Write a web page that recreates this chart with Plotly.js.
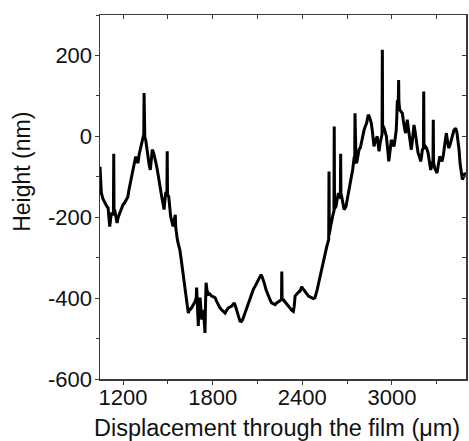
<!DOCTYPE html>
<html>
<head>
<meta charset="utf-8">
<script src="https://cdn.plot.ly/plotly-3.0.1.min.js"></script>
<style>
  html, body { margin: 0; padding: 0; background: #fff; }
  #chart { width: 469px; height: 441px; }
</style>
</head>
<body>
<div id="chart"></div>
<script>
// Surface height profile across the film
const displacement = [
  1046, 1055, 1066, 1077, 1090, 1100, 1111, 1122, 1132, 1136, 1138, 1140, 1144, 1152, 1160, 1168,
  1178, 1188, 1200, 1210, 1222, 1232, 1240, 1248, 1256, 1265, 1274, 1285, 1292, 1300, 1308, 1316,
  1324, 1329, 1336, 1339, 1341, 1343, 1346, 1352, 1360, 1367, 1375, 1383, 1390, 1396, 1404, 1412,
  1420, 1430, 1438, 1446, 1455, 1463, 1470, 1475, 1480, 1486, 1494, 1496, 1498, 1506, 1512, 1519,
  1527, 1535, 1542, 1548, 1550, 1553, 1556, 1562, 1568, 1575, 1580, 1588, 1595, 1602, 1608, 1615,
  1622, 1630, 1637, 1643, 1649, 1655, 1660, 1665, 1670, 1680, 1690, 1693, 1697, 1700, 1704, 1708,
  1712, 1716, 1722, 1727, 1732, 1738, 1744, 1749, 1752, 1756, 1762, 1767, 1772, 1782, 1793, 1805,
  1816, 1827, 1838, 1849, 1860, 1872, 1883, 1894, 1905, 1916, 1927, 1936, 1945, 1953, 1961, 1972,
  1983, 1992, 2001, 2009, 2017, 2028, 2039, 2050, 2062, 2073, 2084, 2095, 2106, 2115, 2124, 2132,
  2139, 2148, 2157, 2165, 2173, 2184, 2195, 2206, 2218, 2229, 2240, 2252, 2261, 2263, 2265, 2273,
  2285, 2296, 2307, 2318, 2329, 2340, 2346, 2352, 2358, 2363, 2368, 2374, 2380, 2385, 2391, 2396,
  2407, 2418, 2430, 2441, 2452, 2463, 2474, 2485, 2492, 2500, 2510, 2519, 2528, 2536, 2545, 2553,
  2562, 2570, 2577, 2579, 2581, 2590, 2597, 2603, 2608, 2612, 2614, 2616, 2620, 2626, 2634, 2642,
  2650, 2655, 2657, 2659, 2664, 2672, 2680, 2686, 2693, 2700, 2709, 2716, 2723, 2730, 2737, 2743,
  2748, 2751, 2753, 2755, 2760, 2764, 2772, 2780, 2789, 2798, 2806, 2814, 2822, 2831, 2837, 2842,
  2849, 2856, 2862, 2870, 2880, 2890, 2902, 2908, 2914, 2922, 2929, 2934, 2936, 2938, 2942, 2948,
  2955, 2963, 2971, 2979, 2988, 2996, 3005, 3014, 3022, 3029, 3033, 3036, 3043, 3045, 3047, 3052,
  3061, 3070, 3076, 3081, 3087, 3092, 3097, 3103, 3110, 3119, 3125, 3130, 3140, 3148, 3156, 3164,
  3170, 3175, 3184, 3193, 3199, 3204, 3211, 3213, 3215, 3224, 3233, 3242, 3251, 3260, 3268, 3275,
  3277, 3279, 3287, 3295, 3302, 3311, 3320, 3328, 3336, 3345, 3354, 3359, 3364, 3372, 3380, 3390,
  3398, 3407, 3416, 3422, 3427, 3435, 3443, 3450, 3456, 3463, 3472, 3480, 3488, 3496
];

const height = [
  -75, -140, -155, -165, -172, -177, -223, -189, -195, -188, -43, -183, -181, -200, -214, -200,
  -189, -180, -169, -165, -157, -150, -132, -118, -99, -90, -75, -50, -60, -66, -45, -33,
  -20, -9, -5, 5, 107, 2, -3, -9, -35, -58, -70, -83, -55, -33, -40, -50,
  -65, -83, -105, -124, -140, -157, -170, -181, -160, -140, -138, -37, -145, -149, -175, -198,
  -210, -223, -210, -200, -194, -225, -238, -250, -263, -272, -280, -300, -318, -338, -355, -375,
  -395, -420, -437, -430, -429, -425, -424, -420, -417, -410, -400, -374, -410, -440, -469, -420,
  -405, -399, -430, -453, -440, -429, -460, -486, -420, -362, -380, -388, -391, -390, -395, -397,
  -399, -408, -417, -424, -429, -433, -437, -430, -424, -422, -420, -416, -412, -420, -429, -445,
  -457, -458, -453, -445, -436, -425, -412, -400, -387, -378, -371, -362, -354, -348, -342, -348,
  -354, -366, -379, -388, -395, -404, -412, -414, -416, -412, -408, -406, -404, -334, -402, -404,
  -410, -416, -420, -424, -430, -433, -420, -395, -392, -391, -386, -383, -383, -383, -378, -372,
  -378, -383, -390, -395, -397, -399, -401, -399, -392, -379, -362, -346, -330, -313, -300, -288,
  -276, -264, -255, -87, -243, -222, -206, -198, -190, -185, 24, -180, -176, -173, -155, -140,
  -148, -152, -43, -150, -149, -165, -181, -178, -173, -158, -140, -128, -116, -100, -83, -65,
  -50, -55, 57, -60, -64, -66, -50, -33, -28, -10, 5, 16, 25, 33, 45, 53,
  49, 40, 33, 10, -25, -10, 0, -20, -37, -15, 0, 5, 214, 10, 25, 20,
  10, 0, -30, -62, -35, -9, -15, -25, -5, 16, 50, 86, 90, 139, 85, 66,
  60, 57, 40, 24, 15, 8, 25, 41, 20, 0, -15, -33, 0, 28, 10, -9,
  -25, -41, -50, -62, -48, -33, -30, 111, -28, -25, -30, -41, -60, -83, -70, -60,
  41, -65, -79, -85, -91, -70, -50, -55, -62, -45, -25, -10, 8, -10, -29, -20,
  -9, 5, 16, 18, 20, 10, -9, -35, -66, -85, -107, -100, -91, -95
];

const xTickVals = [1200, 1800, 2400, 3000];
const xTickText = ['1200', '1800', '2400', '3000'];
const yTickVals = [-600, -400, -200, 0, 200];
const yTickText = ['-600', '-400', '-200', '0', '200'];

const xRange = [1046, 3496];
const yRange = [-600, 300];

const fontFamily = 'Arial, "Liberation Sans", Helvetica, sans-serif';
const axisColor = '#3a3a3a';

const baseAxis = {
  showline: true,
  linecolor: axisColor,
  linewidth: 1.5,
  showgrid: false,
  zeroline: false,
  ticks: 'outside',
  ticklen: 4,
  tickwidth: 1,
  tickcolor: axisColor,
  tickfont: { family: fontFamily, size: 22, color: '#111' },
  fixedrange: true
};

const trace = {
  x: displacement,
  y: height,
  type: 'scatter',
  mode: 'lines',
  line: { color: '#000', width: 3 },
  hoverinfo: 'skip'
};

const layout = {
  width: 469,
  height: 441,
  margin: { l: 100, r: 3, t: 15, b: 62 },
  paper_bgcolor: '#fff',
  plot_bgcolor: '#fff',
  showlegend: false,
  xaxis: Object.assign({}, baseAxis, {
    range: xRange,
    tickmode: 'array',
    tickvals: xTickVals,
    ticktext: xTickText,
    ticklabelstandoff: -6,
    minor: { ticks: 'outside', dtick: 300, tick0: 1200, ticklen: 3, tickcolor: axisColor }
  }),
  yaxis: Object.assign({}, baseAxis, {
    range: yRange,
    tickmode: 'array',
    tickvals: yTickVals,
    ticktext: yTickText,
    ticklabelstandoff: -2,
    minor: { ticks: 'outside', dtick: 100, tick0: 0, ticklen: 3, tickcolor: axisColor }
  }),
  // frame on top and right with inward ticks
  xaxis2: {
    overlaying: 'x', side: 'top', range: xRange, showline: true, linecolor: axisColor,
    linewidth: 1.5, showgrid: false, zeroline: false, showticklabels: false,
    ticks: 'inside', ticklen: 4, tickcolor: axisColor, dtick: 300, tick0: 1200, fixedrange: true
  },
  yaxis2: {
    overlaying: 'y', side: 'right', range: yRange, showline: true, linecolor: axisColor,
    linewidth: 1.5, showgrid: false, zeroline: false, showticklabels: false,
    ticks: 'inside', ticklen: 4, tickcolor: axisColor, dtick: 100, tick0: 0, fixedrange: true
  },
  annotations: [
    {
      text: 'Displacement through the film (\u03bcm)',
      xref: 'paper', yref: 'paper', x: 0.484, y: -0.135,
      xanchor: 'center', yanchor: 'middle', showarrow: false,
      font: { family: fontFamily, size: 23.5, color: '#111' }
    },
    {
      text: 'Height (nm)',
      xref: 'paper', yref: 'paper', x: -0.215, y: 0.57,
      xanchor: 'center', yanchor: 'middle', showarrow: false, textangle: -90,
      font: { family: fontFamily, size: 23, color: '#111' }
    }
  ]
};

Plotly.newPlot('chart', [trace, { x: [], y: [], xaxis: 'x2', yaxis: 'y2', hoverinfo: 'skip' }], layout, { staticPlot: true, displayModeBar: false });
</script>
</body>
</html>
